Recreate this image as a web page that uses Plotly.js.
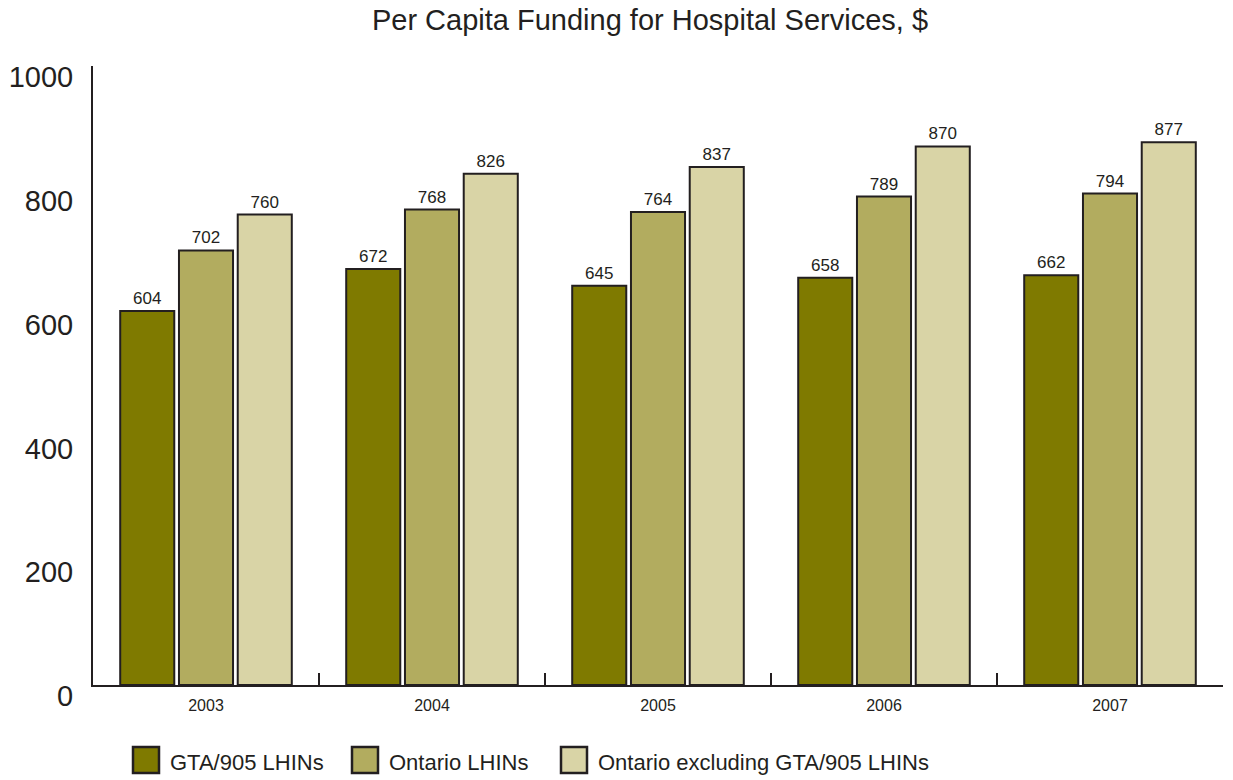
<!DOCTYPE html>
<html>
<head>
<meta charset="utf-8">
<script src="https://cdn.plot.ly/plotly-3.0.1.min.js"></script>
<style>html,body{margin:0;padding:0;background:#fff;}#chart{width:1233px;height:780px;}</style>
</head>
<body>
<div id="chart"></div>
<script>
const years = ['2003', '2004', '2005', '2006', '2007'];
const seriesNames = ['GTA/905 LHINs', 'Ontario LHINs', 'Ontario excluding GTA/905 LHINs'];
const gtaValues = [604, 672, 645, 658, 662];
const ontarioValues = [702, 768, 764, 789, 794];
const ontarioExclValues = [760, 826, 837, 870, 877];
const yTickValues = [0, 200, 400, 600, 800, 1000];
const colors = ['#7f7a00', '#b2ac5f', '#d9d4a6'];
const outline = '#231f20';

const allValues = [gtaValues, ontarioValues, ontarioExclValues];
const traces = allValues.map((vals, i) => ({
  type: 'bar',
  name: seriesNames[i],
  x: years,
  y: vals,
  text: vals.map(String),
  textposition: 'outside',
  cliponaxis: false,
  textfont: {family: 'Liberation Sans, Arial, sans-serif', size: 17, color: outline},
  marker: {color: colors[i], line: {color: outline, width: 2}},
  hoverinfo: 'skip'
}));

// custom legend (large swatches) in paper coordinates
const W = 1233, H = 780, ml = 93, mr = 10, mt = 66, mb = 95;
const pw = W - ml - mr, ph = H - mt - mb;
const px = v => (v - ml) / pw;
const py = v => (H - mb - v) / ph;
const legendSwatchX = [133, 352, 561];
const shapes = [], annotations = [];
seriesNames.forEach((name, i) => {
  const x0 = legendSwatchX[i];
  shapes.push({type: 'rect', xref: 'paper', yref: 'paper',
    x0: px(x0), x1: px(x0 + 26), y0: py(773), y1: py(747),
    fillcolor: colors[i], line: {color: outline, width: 2.5}});
  annotations.push({xref: 'paper', yref: 'paper', x: px(x0 + 35), y: py(762),
    xanchor: 'left', yanchor: 'middle', showarrow: false, text: name,
    font: {size: 22, color: outline}});
});

const layout = {
  width: W, height: H,
  margin: {l: ml, r: mr, t: mt, b: mb, autoexpand: false},
  paper_bgcolor: '#fff', plot_bgcolor: '#fff',
  font: {family: 'Liberation Sans, Arial, sans-serif', color: outline},
  title: {text: 'Per Capita Funding for Hospital Services, $', x: 650 / W, xref: 'container', xanchor: 'center',
          y: 1 - 20 / H, yref: 'container', yanchor: 'middle',
          font: {size: 29, color: outline}},
  barmode: 'group', bargap: 0.22, bargroupgap: 0.08,
  xaxis: {
    type: 'category', showline: true, linecolor: outline, linewidth: 2,
    ticks: 'inside', tickson: 'boundaries', ticklen: 12, tickwidth: 2, tickcolor: outline,
    tickfont: {size: 16}, ticklabelstandoff: 5, showgrid: false, zeroline: false
  },
  yaxis: {
    range: [0, 1000], tickvals: yTickValues, showline: true, linecolor: outline, linewidth: 2,
    ticks: '', showgrid: false, zeroline: false, tickfont: {size: 29},
    ticklabelstandoff: 12, ticklabelshift: 11
  },
  shapes: shapes,
  annotations: annotations,
  showlegend: false
};

Plotly.newPlot('chart', traces, layout, {displayModeBar: false, staticPlot: true});
</script>
</body>
</html>
